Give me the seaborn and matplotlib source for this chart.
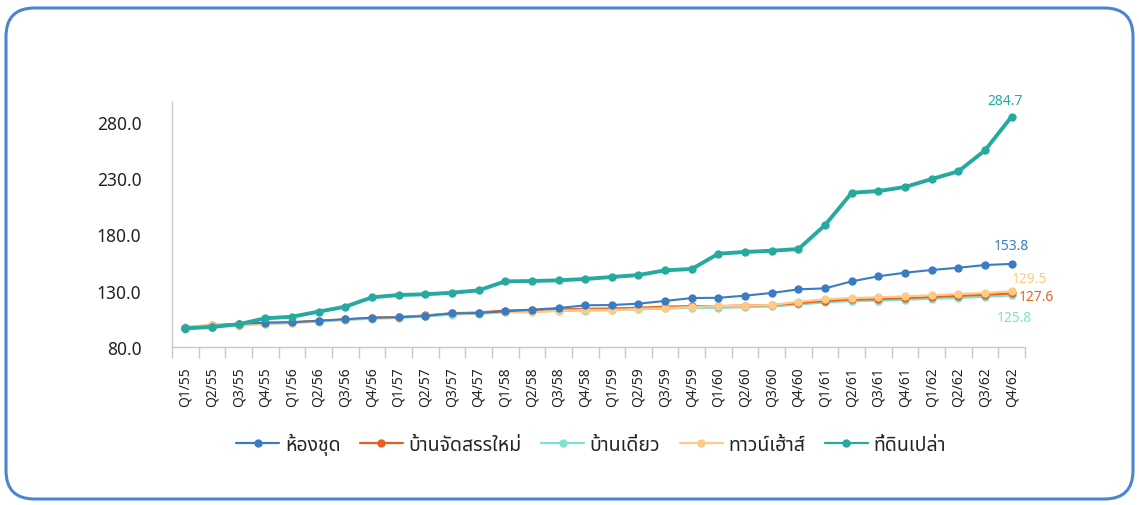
import numpy as np
import pandas as pd
import seaborn as sns
import matplotlib
matplotlib.use("Agg")
import matplotlib.pyplot as plt
from matplotlib import font_manager, ft2font
from matplotlib.patches import FancyBboxPatch
from matplotlib.lines import Line2D

quarters = [f"Q{q}/{y}" for y in range(55, 63) for q in range(1, 5)]

condo = [96.6, 97.8, 100.7, 101.6, 101.9, 103.4, 104.6, 106.0, 106.4, 107.5, 109.8, 110.2,
         111.7, 113.1, 114.6, 117.0, 117.3, 118.5, 120.9, 123.5, 123.7, 125.6, 128.0, 131.2,
         132.1, 138.3, 142.8, 146.0, 148.4, 150.4, 152.8, 153.8]
new_house = [97.0, 99.5, 100.4, 101.3, 102.0, 103.2, 104.5, 106.0, 106.6, 108.0, 110.0, 110.6,
             112.4, 113.0, 113.4, 113.8, 114.2, 114.8, 115.8, 116.3, 116.3, 116.8, 117.3, 119.0,
             121.0, 122.2, 122.6, 123.5, 124.5, 125.4, 126.4, 127.6]
detached = [95.8, 98.0, 99.8, 100.8, 101.3, 102.6, 104.0, 105.2, 105.8, 107.2, 108.8, 109.6,
            110.8, 111.6, 112.0, 112.4, 112.8, 113.4, 114.2, 114.8, 114.8, 115.4, 116.0, 117.8,
            119.6, 120.8, 121.2, 122.0, 122.8, 123.6, 124.6, 125.8]
townhouse = [98.0, 99.5, 99.0, 100.4, 101.5, 103.0, 104.3, 105.5, 106.2, 107.6, 109.3, 110.0,
             110.8, 110.8, 112.2, 112.9, 112.9, 113.7, 114.6, 115.5, 116.4, 116.7, 117.3, 120.2,
             122.4, 123.5, 124.1, 125.0, 125.9, 127.1, 128.0, 129.5]
land = [96.6, 97.8, 100.2, 105.5, 106.9, 111.4, 115.8, 124.1, 126.2, 126.8, 128.2, 130.3,
        138.3, 138.6, 139.2, 140.4, 142.2, 143.9, 148.1, 149.3, 162.9, 164.4, 165.5, 167.0,
        188.3, 217.0, 218.5, 222.1, 229.2, 236.0, 254.7, 284.7]

series_names = ["ห้องชุด", "บ้านจัดสรรใหม่", "บ้านเดี่ยว", "ทาวน์เฮ้าส์", "ที่ดินเปล่า"]
series_values = [condo, new_house, detached, townhouse, land]
colors = ["#3a7cc3", "#e8601c", "#7ce3d2", "#ffc987", "#26aa9f"]
yticks = [80, 130, 180, 230, 280]


def find_thai_font():
    pref = ["Noto Sans Thai", "Noto Sans Thai UI", "Noto Sans Thai Looped", "Sarabun",
            "Kanit", "Prompt", "Loma", "Garuda", "Umpush", "Waree", "Kinnari", "Norasi"]
    found = []
    seen = set()
    for f in font_manager.fontManager.ttflist:
        if f.name in seen:
            continue
        try:
            cm = ft2font.FT2Font(f.fname).get_charmap()
        except Exception:
            continue
        if 0x0E2B in cm and 0x0E49 in cm:
            found.append(f.name)
            seen.add(f.name)
    for p in pref:
        if p in found:
            return p
    return found[0] if found else None


sns.set_theme(style="white")
thai = find_thai_font()
fam = ([thai] if thai else []) + ["DejaVu Sans"]
plt.rcParams["font.family"] = fam

df = pd.DataFrame({"quarter": quarters})
for n, v in zip(series_names, series_values):
    df[n] = v
long = df.melt(id_vars="quarter", var_name="series", value_name="value")

fig = plt.figure(figsize=(11.39, 5.06), dpi=100)
W, H = 1139, 506
ax = fig.add_axes([172 / W, 1 - 348 / H, (1025 - 172) / W, (348 - 103) / H])

widths = [1.5, 1.6, 1.6, 1.6, 2.8]
msizes = [6, 6, 6, 6, 6]
zorders = [6, 4, 3, 5, 7]
handles = []
for n, c, lw, ms, z in zip(series_names, colors, widths, msizes, zorders):
    sub = long[long["series"] == n]
    sns.lineplot(data=sub, x="quarter", y="value", ax=ax, color=c, linewidth=lw,
                 marker="o", markersize=ms, markeredgewidth=0, sort=False, zorder=z,
                 legend=False)
    handles.append(Line2D([], [], color=c, lw=1.6, marker="o", markersize=6,
                          markeredgewidth=0, label=n))

ax.set_xlim(-0.5, len(quarters) - 0.5)
ax.set_ylim(80, 297.6)
ax.set_yticks(yticks)
ax.set_yticklabels([f"{t:.1f}" for t in yticks], fontsize=12.5, color="#222222")
ax.set_xticks(range(len(quarters)))
ax.set_xticklabels(quarters, rotation=90, fontsize=10, color="#222222")
ax.set_xticks(np.arange(-0.5, len(quarters), 1), minor=True)
ax.tick_params(axis="x", which="major", length=0, pad=14)
ax.tick_params(axis="x", which="minor", length=8, color="#c8c8c8", width=1, direction="out",
               bottom=True)
ax.tick_params(axis="y", length=0, pad=22)
ax.set_xlabel("")
ax.set_ylabel("")
for s in ["top", "right"]:
    ax.spines[s].set_visible(False)
for s in ["left", "bottom"]:
    ax.spines[s].set_color("#c8c8c8")
    ax.spines[s].set_linewidth(1)
ax.grid(False)

last = len(quarters) - 1
lab_kw = dict(fontsize=10, fontweight="bold", textcoords="offset points")
ax.annotate(f"{land[-1]:.1f}", (last, land[-1]), xytext=(-5, 6), ha="center", va="bottom",
            color=colors[4], **lab_kw)
ax.annotate(f"{condo[-1]:.1f}", (last, condo[-1]), xytext=(0, 8), ha="center", va="bottom",
            color=colors[0], **lab_kw)
ax.annotate(f"{townhouse[-1]:.1f}", (last, townhouse[-1]), xytext=(13, 9.5), ha="center",
            va="center", color=colors[3], annotation_clip=False, **lab_kw)
ax.annotate(f"{new_house[-1]:.1f}", (last, new_house[-1]), xytext=(5, -2.5), ha="left",
            va="center", color=colors[1], annotation_clip=False, **lab_kw)
ax.annotate(f"{detached[-1]:.1f}", (last, detached[-1]), xytext=(2, -16), ha="center",
            va="center", color=colors[2], **lab_kw)

fig.legend(handles=handles, loc="center", bbox_to_anchor=(591 / W, 1 - 445 / H), ncol=5,
           frameon=False, fontsize=14, handlelength=2.2, columnspacing=1.0,
           handletextpad=0.3)

border = FancyBboxPatch((6 / W, 1 - 500 / H), (1133 - 6) / W, (500 - 9) / H,
                        boxstyle="round,pad=0,rounding_size=0.025", transform=fig.transFigure,
                        fill=False, edgecolor="#4a86d0", linewidth=2.2, mutation_aspect=W / H)
fig.patches.append(border)

fig.savefig("out.png", dpi=100)
